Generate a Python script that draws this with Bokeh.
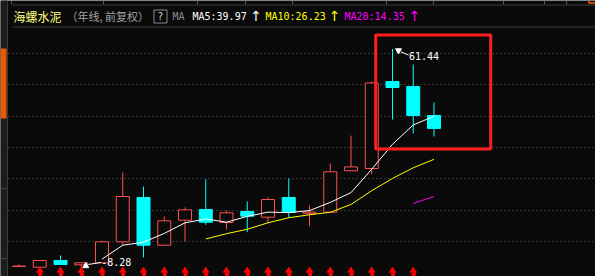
import pandas as pd
from bokeh.plotting import figure
from bokeh.models import Range1d, FixedTicker
from bokeh.core.properties import value
from bokeh.embed import file_html
from bokeh.resources import INLINE

# ---------------- data (yearly candles, forward-adjusted) ----------------
bars   = list(range(1, 22))
opens  = [-7.95, -8.20, -6.06, -7.44, -6.80, -0.10, 14.04, -1.18, 6.80, 10.20, 6.06,
          9.58, 7.76, 14.04, 9.00, 9.35, 22.57, 23.30, 51.07, 49.47, 40.22]
closes = [-7.85, -6.06, -7.34, -6.80, -0.10, 14.36, -1.18, 6.60, 10.10, 6.16, 9.16,
          8.08, 13.40, 9.26, 9.40, 22.25, 23.80, 50.60, 49.15, 40.22, 36.10]
highs  = [-7.30, -6.06, -4.47, -6.80, 0.32, 22.00, 17.55, 7.98, 10.85, 19.80, 9.90,
          12.77, 14.04, 20.10, 11.50, 24.90, 33.80, 51.07, 61.44, 56.50, 44.37]
lows   = [-7.95, -8.20, -7.34, -8.28, -6.80, -1.28, -5.10, -1.18, 0.00, 5.33, 3.83,
          2.97, 5.97, 7.66, 4.90, 9.35, 22.57, 21.48, 38.94, 34.47, 33.51]
icon_bars = list(range(2, 21))
grid_ticks = [0, 10, 20, 30, 40, 50, 60]
stock_name = "海螺水泥"
period_label = "（年线, 前复权）"
ma_names = ["MA5", "MA10", "MA20"]
ma_values = [39.97, 26.23, 14.35]
ma_periods = [5, 10, 20]
max_label = "61.44"
min_label = "-8.28"

BG = "#0a0a0a"
RED = "#ff5050"
CYAN = "#00ffff"
MA_COLORS = ["#ffffff", "#ffff00", "#ff00ff"]

# pixel helpers (for decorations only)
X0, DX = 18.5, 20.75
PPU = 3.133
def px_x(px):
    return 1 + (px - X0) / DX
def px_y(py):
    return (241 - py) / PPU

p = figure(width=595, height=276, output_backend="svg", toolbar_location=None,
           x_range=Range1d(px_x(0), px_x(595)), y_range=Range1d(px_y(276), px_y(0)),
           x_axis_location=None, y_axis_location=None, min_border=0,
           background_fill_color=BG, border_fill_color=BG, outline_line_color=None)
p.xgrid.visible = False
p.ygrid.ticker = FixedTicker(ticks=grid_ticks)
p.ygrid.grid_line_color = "#5c5c5c"
p.ygrid.grid_line_dash = "1 3"
p.ygrid.grid_line_width = 1

df = pd.DataFrame(dict(x=bars, o=opens, c=closes, h=highs, l=lows))
df["top"] = df[["o", "c"]].max(axis=1)
df["bot"] = df[["o", "c"]].min(axis=1)
up = df[df.c >= df.o]
dn = df[df.c < df.o]
hw = 6.5 / DX

p.segment(x0=up.x, y0=up.l, x1=up.x, y1=up.h, line_color=RED, line_width=1)
p.segment(x0=dn.x, y0=dn.l, x1=dn.x, y1=dn.h, line_color=CYAN, line_width=1)
p.quad(left=up.x - hw, right=up.x + hw, top=up.top, bottom=up.bot,
       fill_color=BG, line_color=RED, line_width=1)
p.quad(left=dn.x - hw, right=dn.x + hw, top=dn.top, bottom=dn.bot,
       fill_color=CYAN, line_color=CYAN, line_width=1)

# moving averages of close
for n, col in zip(ma_periods, MA_COLORS):
    ma = df.c.rolling(n).mean()
    p.line(df.x, ma, line_color=col, line_width=1)

# max / min annotations
hi_i = int(df.h.idxmax()); lo_i = int(df.l.idxmin())
hx, hy = df.x[hi_i], df.h[hi_i]
lx, ly = df.x[lo_i], df.l[lo_i]
p.scatter([hx + 6 / DX], [hy - 1.5 / PPU], marker="inverted_triangle", size=6,
          fill_color="white", line_color="white")
p.segment(x0=[hx + 8.5 / DX], y0=[hy - 3 / PPU], x1=[hx + 16 / DX], y1=[hy - 6 / PPU],
          line_color="white", line_width=1)
p.text([hx + 16.5 / DX], [hy - 6.5 / PPU], text=[max_label], text_color="white",
       text_font=value("DejaVu Sans Mono"), text_font_size=value("10px"),
       text_baseline="middle", text_align="left")
p.scatter([lx + 4.5 / DX], [ly + 1.5 / PPU], marker="triangle", size=6,
          fill_color="white", line_color="white")
p.segment(x0=[lx + 7 / DX], y0=[ly + 3 / PPU], x1=[lx + 20 / DX], y1=[ly + 5 / PPU],
          line_color="white", line_width=1)
p.text([lx + 20 / DX], [ly + 5 / PPU], text=[min_label], text_color="white",
       text_font=value("DejaVu Sans Mono"), text_font_size=value("10px"),
       text_baseline="middle", text_align="left")

# red highlight box
p.quad(left=[px_x(375.2)], right=[px_x(490.2)], top=[px_y(34.5)], bottom=[px_y(148.5)],
       fill_alpha=0, line_color="#ff1e1e", line_width=3)

# bottom red event icons
p.scatter(icon_bars, [px_y(269.5)] * len(icon_bars), marker="triangle", size=5,
          fill_color="#ff0000", line_color="#ff0000")
p.scatter(icon_bars, [px_y(271.5)] * len(icon_bars), marker="dash", size=7,
          line_color="#ff0000", line_width=1.5)
p.scatter([b + 0.5 / DX for b in icon_bars], [px_y(274)] * len(icon_bars), marker="square",
          size=3, fill_color="#ff0000", line_color="#ff0000")

# left strip
p.quad(left=[px_x(0)], right=[px_x(7)], top=[px_y(0)], bottom=[px_y(276)],
       fill_color="#1c1c1c", line_color=None)
p.quad(left=[px_x(0)], right=[px_x(6)], top=[px_y(48)], bottom=[px_y(118)],
       fill_color="#e85a05", line_color=None)
p.segment(x0=[px_x(0)] * 2, y0=[px_y(188), px_y(258)], x1=[px_x(6)] * 2,
          y1=[px_y(188), px_y(258)], line_color="#4a4a4a", line_width=1)
p.segment(x0=[px_x(7)], y0=[px_y(0)], x1=[px_x(7)], y1=[px_y(276)],
          line_color="#3a3a3a", line_width=1)

# header band
p.quad(left=[px_x(8)], right=[px_x(595)], top=[px_y(4)], bottom=[px_y(26)],
       fill_color=BG, line_color=None)
p.segment(x0=[px_x(12)] * 2, y0=[px_y(4.5), px_y(26.5)], x1=[px_x(595)] * 2,
          y1=[px_y(4.5), px_y(26.5)], line_color="#3c3c3c", line_width=1)
tabs = [11, 103, 197, 245, 292, 386, 433, 503, 544, 566]
p.segment(x0=[px_x(t) for t in tabs], y0=[px_y(0)] * len(tabs),
          x1=[px_x(t) for t in tabs], y1=[px_y(4)] * len(tabs),
          line_color="#5a5a5a", line_width=1)
p.segment(x0=[px_x(588.5), px_x(588.5)], y0=[px_y(0), px_y(2.5)],
          x1=[px_x(588.5), px_x(595)], y1=[px_y(3), px_y(2.5)],
          line_color="#ff5a00", line_width=1.5)

hy_c = px_y(15.5)
p.text([px_x(13)], [hy_c], text=[stock_name], text_color="#ffff80",
       text_font=value("Noto Sans CJK SC"), text_font_size=value("12px"),
       text_baseline="middle", text_align="left")
p.text([px_x(66)], [hy_c], text=[period_label], text_color="#a0a0a0",
       text_font=value("Noto Sans CJK SC"), text_font_size=value("11px"),
       text_baseline="middle", text_align="left")
p.quad(left=[px_x(153.5)], right=[px_x(166.5)], top=[px_y(9.5)], bottom=[px_y(22.5)],
       fill_alpha=0, line_color="#8a8a8a", line_width=1)
p.text([px_x(160)], [hy_c], text=["?"], text_color="#d0d0d0",
       text_font=value("DejaVu Sans"), text_font_size=value("10px"),
       text_baseline="middle", text_align="center")
p.text([px_x(172)], [hy_c], text=["MA"], text_color="#8c8c8c",
       text_font=value("DejaVu Sans Mono"), text_font_size=value("10px"),
       text_baseline="middle", text_align="left")
ma_x = [192, 265, 344]
arrow_x = [255.5, 334, 414]
for name, v, col, tx, ax in zip(ma_names, ma_values, MA_COLORS, ma_x, arrow_x):
    p.text([px_x(tx)], [hy_c], text=[f"{name}:{v:.2f}"], text_color=col,
           text_font=value("DejaVu Sans Mono"), text_font_size=value("10px"),
           text_baseline="middle", text_align="left")
    p.text([px_x(ax)], [hy_c], text=["↑"], text_color=col,
           text_font=value("DejaVu Sans"), text_font_size=value("14px"),
           text_baseline="middle", text_align="center")

open("out.html", "w").write(file_html(p, INLINE))
